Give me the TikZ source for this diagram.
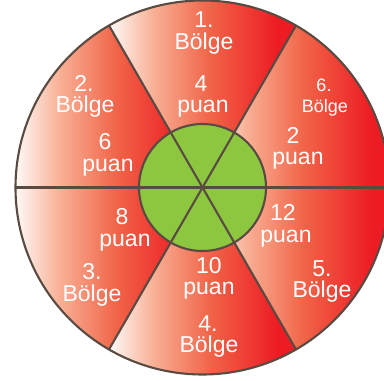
\documentclass[tikz,border=0pt]{standalone}
\usepackage{fontspec}
\usetikzlibrary{calc}
\newfontfamily\labfont{Liberation Sans}
\definecolor{edge}{RGB}{89,74,66}
\definecolor{leafgreen}{RGB}{141,198,63}
\definecolor{cza}{RGB}{255,250,247}
\definecolor{czb}{RGB}{248,175,148}
\definecolor{czc}{RGB}{241,100,72}
\definecolor{czd}{RGB}{237,28,36}
\pgfdeclarehorizontalshading{sect}{100bp}{color(0bp)=(cza); color(25bp)=(cza); color(37bp)=(czb); color(52bp)=(czc); color(70bp)=(czd); color(100bp)=(czd)}
\tikzset{
  lbl/.style={text=white, font=\labfont\fontsize{23}{23}\selectfont, anchor=base, inner sep=0pt},
  lblsmall/.style={lbl, font=\labfont\fontsize{18}{18}\selectfont},
  sector/.style={shading=sect},
  rim/.style={draw=edge, line width=2.1pt}
}
\begin{document}
\begin{tikzpicture}[x=1pt,y=1pt]
\useasboundingbox (0,0) rectangle (384,381);
\coordinate (C) at (202.5,193.5);
\def\R{187}
\def\r{63.5}
\begin{scope}
\clip (0,0) rectangle (384,381);
\foreach \a in {0,60,120,180,240,300}{
  \path[sector] (C) -- ++(\a:\R) arc[start angle=\a, end angle=\a+60, radius=\R] -- cycle;
}
\fill[leafgreen] (C) circle[radius=\r];
\foreach \a in {0,60,120}{
  \draw[rim] ($(C)+(\a:\R)$) -- ($(C)+(\a+180:\R)$);
}
\draw[rim] (C) circle[radius=\r];
\draw[rim] (C) circle[radius=\R];
\end{scope}
% labels
\node[lbl] (t1a) at (204,381-28) {1.};
\node[lbl] (t1b) at (204,381-50) {Bölge};
\node[lbl] (p1a) at (201,381-92) {4};
\node[lbl] (p1b) at (203,381-113) {puan};
\node[lbl] (t2a) at (84,381-92) {2.};
\node[lbl] (t2b) at (85,381-113) {Bölge};
\node[lbl] (p2a) at (105,381-150) {6};
\node[lbl] (p2b) at (108,381-171.5) {puan};
\node[lblsmall] (t6a) at (324,381-92) {6.};
\node[lblsmall] (t6b) at (325,381-113) {Bölge};
\node[lbl] (p6a) at (293,381-143.5) {2};
\node[lbl] (p6b) at (298,381-165) {puan};
\node[lbl] (p3a) at (122,381-224.5) {8};
\node[lbl] (p3b) at (125,381-246.5) {puan};
\node[lbl] (t3a) at (92,381-280) {3.};
\node[lbl] (t3b) at (92,381-301.5) {Bölge};
\node[lbl] (p5a) at (283,381-220.5) {12};
\node[lbl] (p5b) at (286,381-243) {puan};
\node[lbl] (t5a) at (322,381-276.5) {5.};
\node[lbl] (t5b) at (322,381-298) {Bölge};
\node[lbl] (p4a) at (209,381-273.5) {10};
\node[lbl] (p4b) at (209,381-295) {puan};
\node[lbl] (t4a) at (208,381-331.5) {4.};
\node[lbl] (t4b) at (209,381-353) {Bölge};
\end{tikzpicture}
\end{document}
